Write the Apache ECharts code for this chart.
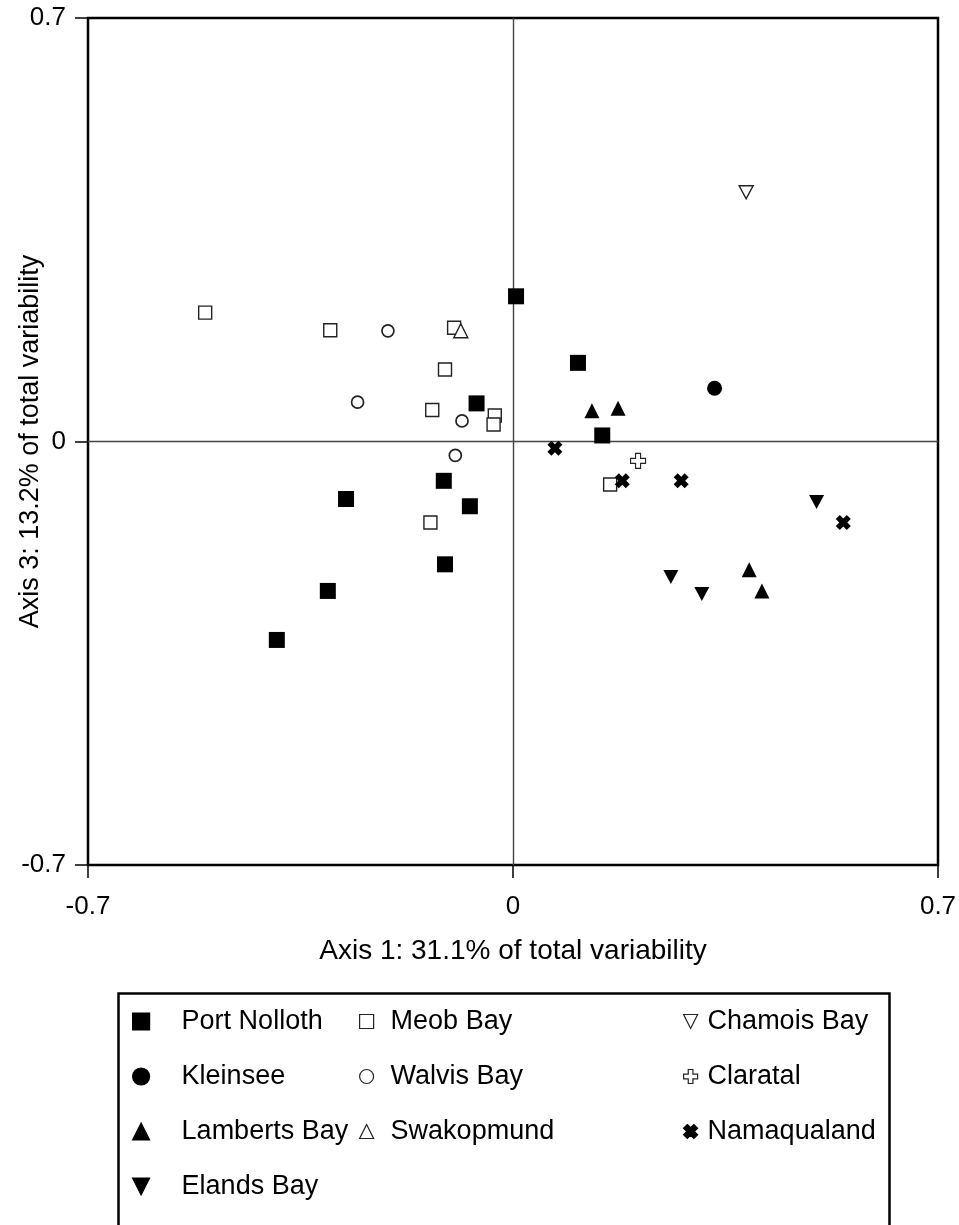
<!DOCTYPE html>
<html><head><meta charset="utf-8">
<script src="https://cdn.jsdelivr.net/npm/echarts@6/dist/echarts.min.js"></script>
<style>html,body{margin:0;padding:0;background:#fff}#c{width:959px;height:1225px}</style>
</head><body><div id="c"></div>
<script>
// ---- data (Axis 1, Axis 3) ----
const portNolloth = [[0.005,0.240],[0.107,0.130],[-0.060,0.063],[0.147,0.010],[-0.275,-0.095],
  [-0.114,-0.065],[-0.071,-0.107],[-0.112,-0.203],[-0.305,-0.247],[-0.389,-0.328]];
const kleinsee = [[0.332,0.088]];
const lambertsBay = [[0.130,0.051],[0.173,0.055],[0.389,-0.212],[0.410,-0.247]];
const elandsBay = [[0.500,-0.100],[0.260,-0.224],[0.311,-0.252]];
const meobBay = [[-0.507,0.213],[-0.301,0.184],[-0.097,0.188],[-0.112,0.119],[-0.133,0.052],
  [-0.030,0.043],[-0.032,0.028],[-0.136,-0.134],[0.160,-0.071]];
const walvisBay = [[-0.206,0.183],[-0.256,0.065],[-0.084,0.034],[-0.095,-0.023]];
const swakopmund = [[-0.086,0.183]];
const chamoisBay = [[0.384,0.412]];
const claratal = [[0.206,-0.032]];
const namaqualand = [[0.069,-0.011],[0.180,-0.065],[0.277,-0.065],[0.544,-0.134]];
const axisTicks = [-0.7, 0, 0.7];
const xName = 'Axis 1: 31.1% of total variability';
const yName = 'Axis 3: 13.2% of total variability';
const legendCol1 = ['Port Nolloth','Kleinsee','Lamberts Bay','Elands Bay'];
const legendCol2 = ['Meob Bay','Walvis Bay','Swakopmund'];
const legendCol3 = ['Chamois Bay','Claratal','Namaqualand'];

const FONT = 'Liberation Sans, Arial, sans-serif';
const INV_TRI = 'path://M0,0L2,0L1,2Z';
const OPEN_CROSS = 'path://M1,0H2V1H3V2H2V3H1V2H0V1H1Z';
const BOLD_X = 'path://M0,1.6L1.6,0L3,1.4L4.4,0L6,1.6L4.6,3L6,4.4L4.4,6L3,4.6L1.6,6L0,4.4L1.4,3Z';

function filled(name, data, symbol, size) {
  return {type:'scatter', name, data, symbol, symbolSize:size, z:3,
    itemStyle:{color:'#000', borderColor:'#000', borderWidth:0, opacity:1}};
}
function hollow(name, data, symbol, size, bw) {
  return {type:'scatter', name, data, symbol, symbolSize:size, z:3,
    itemStyle:{color:'#fff', borderColor:'#222', borderWidth:bw || 1.4, opacity:1}};
}

const axisCommon = {
  type:'value', min:axisTicks[0], max:axisTicks[2], interval:axisTicks[2],
  splitLine:{show:false}, axisLine:{show:false, onZero:false},
  axisTick:{show:true, inside:false, length:13, lineStyle:{color:'#000', width:1.5}},
  nameLocation:'middle', nameMoveOverlap:false
};
function tickLabel(margin, pad) {
  return {color:'#000', fontSize:26, fontFamily:FONT, margin:margin, padding:pad,
    formatter: v => (Math.abs(v) < 1e-9 ? '0' : String(Math.round(v*10)/10))};
}

const legendBase = {orient:'vertical', itemGap:28, selectedMode:false, padding:0,
  textStyle:{color:'#000', fontSize:27, fontFamily:FONT, lineHeight:27},
  itemStyle:{borderWidth:1.2}};

const chart = echarts.init(document.getElementById('c'), null, {renderer:'canvas'});
chart.setOption({
  animation:false,
  backgroundColor:'#fff',
  grid:{left:88, top:18, right:21, bottom:360, show:true, borderColor:'#000', borderWidth:2.5,
    backgroundColor:'transparent', outerBoundsMode:'none'},
  xAxis: Object.assign({}, axisCommon, {position:'bottom', name:xName, nameGap:72,
    nameTextStyle:{color:'#000', fontSize:28, fontFamily:FONT}, axisLabel:tickLabel(29, 0)}),
  yAxis: Object.assign({}, axisCommon, {position:'left', name:yName, nameGap:44, nameRotate:90,
    nameTextStyle:{color:'#000', fontSize:27, fontFamily:FONT}, axisLabel:tickLabel(22, [7,0,0,0])}),
  legend:[
    Object.assign({}, legendBase, {left:132, top:1008, itemWidth:17, itemHeight:17, data:legendCol1,
      textStyle:Object.assign({}, legendBase.textStyle, {padding:[0,0,0,27]})}),
    Object.assign({}, legendBase, {left:359, top:1008, itemWidth:14, itemHeight:14, data:legendCol2,
      textStyle:Object.assign({}, legendBase.textStyle, {padding:[0,0,0,12]})}),
    Object.assign({}, legendBase, {left:683, top:1008, itemWidth:14, itemHeight:14, data:legendCol3,
      textStyle:Object.assign({}, legendBase.textStyle, {padding:[0,0,0,5]})})
  ],
  graphic:[{type:'rect', left:116, top:991, shape:{width:771, height:260},
    style:{fill:'none', stroke:'#000', lineWidth:2.5}, z:-1, silent:true}],
  series:[
    {type:'scatter', name:'zero', data:[], z:1,
      markLine:{silent:true, z:1, symbol:'none', animation:false, label:{show:false},
        lineStyle:{color:'#444', width:1.4, type:'solid'},
        emphasis:{disabled:true},
        data:[{xAxis:0},{yAxis:0}]}},
    filled('Port Nolloth', portNolloth, 'rect', 16),
    filled('Kleinsee', kleinsee, 'circle', 15),
    filled('Lamberts Bay', lambertsBay, 'triangle', 15),
    filled('Elands Bay', elandsBay, INV_TRI, [15,14]),
    hollow('Meob Bay', meobBay, 'rect', 13),
    hollow('Walvis Bay', walvisBay, 'circle', 12, 1.7),
    hollow('Swakopmund', swakopmund, 'triangle', 14),
    hollow('Chamois Bay', chamoisBay, INV_TRI, [14,13]),
    hollow('Claratal', claratal, OPEN_CROSS, 15, 1.1),
    filled('Namaqualand', namaqualand, BOLD_X, 15)
  ]
});
</script></body></html>
